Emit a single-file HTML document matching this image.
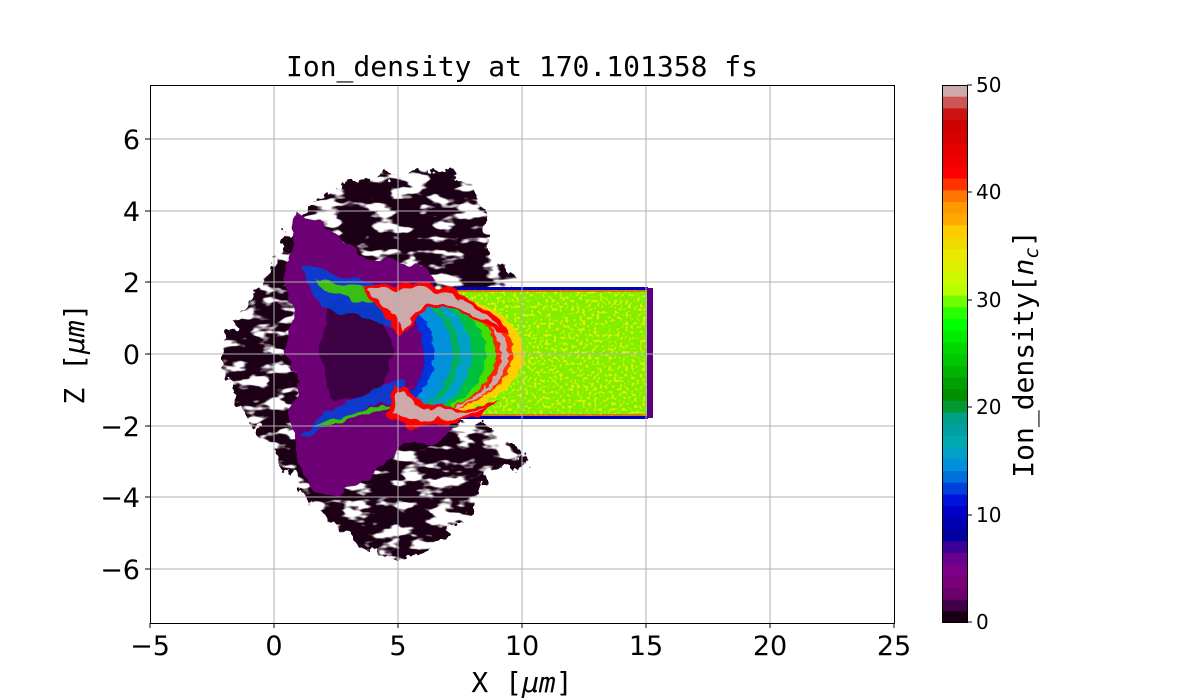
<!DOCTYPE html>
<html><head><meta charset="utf-8"><style>
html,body{margin:0;padding:0;background:#fff;width:1200px;height:700px;overflow:hidden}
svg text{font-family:"DejaVu Sans","Liberation Sans",sans-serif;fill:#000}
.mono{font-family:"DejaVu Sans Mono","Liberation Mono",monospace}
</style></head><body>
<svg width="1200" height="700" viewBox="0 0 1200 700" xmlns="http://www.w3.org/2000/svg">
<defs>
<filter id="rag" x="-20%" y="-20%" width="140%" height="140%">
<feTurbulence type="fractalNoise" baseFrequency="0.09" numOctaves="3" seed="3" result="n"/>
<feDisplacementMap in="SourceGraphic" in2="n" scale="22" xChannelSelector="R" yChannelSelector="G" result="d"/>
<feTurbulence type="fractalNoise" baseFrequency="0.035 0.08" numOctaves="3" seed="11" result="h"/>
<feColorMatrix in="h" type="matrix" values="0 0 0 0 0  0 0 0 0 0  0 0 0 0 0  -10 0 0 0 6.3" result="hm"/>
<feComposite in="d" in2="hm" operator="in"/>
</filter>
<filter id="rag2" x="-20%" y="-20%" width="140%" height="140%">
<feTurbulence type="fractalNoise" baseFrequency="0.06" numOctaves="2" seed="7" result="n"/>
<feDisplacementMap in="SourceGraphic" in2="n" scale="14" xChannelSelector="R" yChannelSelector="G"/>
</filter>
<filter id="wav" x="-10%" y="-10%" width="120%" height="120%">
<feTurbulence type="fractalNoise" baseFrequency="0.15" numOctaves="2" seed="5" result="n"/>
<feDisplacementMap in="SourceGraphic" in2="n" scale="7" xChannelSelector="R" yChannelSelector="G"/>
</filter>
<filter id="speck">
<feTurbulence type="fractalNoise" baseFrequency="0.35" numOctaves="1" seed="2" result="n"/>
<feColorMatrix in="n" type="matrix" values="0 0 0 0 0.85  0 0 0 0 0.92  0 0 0 0 0  0 0 0 -5 2.4" result="y"/>
<feComposite in="y" in2="SourceGraphic" operator="in" result="yy"/>
<feMerge><feMergeNode in="SourceGraphic"/><feMergeNode in="yy"/></feMerge>
</filter>
<clipPath id="ax"><rect x="150" y="85" width="744" height="538"/></clipPath>
<clipPath id="cr"><rect x="405" y="290" width="120" height="128"/></clipPath>
</defs>
<text class="mono" x="522" y="76" font-size="28" text-anchor="middle">Ion_density at 170.101358 fs</text>
<g clip-path="url(#ax)">
<g filter="url(#rag)">
<path d="M300,215 C330,180 400,170 445,172 C480,185 490,220 485,250 L520,280 L500,300 L455,290 L455,420 L500,430 L530,465 L490,470 L470,510 C440,550 400,565 380,555 C340,530 300,500 290,470 L255,430 L238,400 L222,370 L225,335 L250,300 L270,270 Z" fill="#1a0018"/>
</g>
<g filter="url(#rag2)">
<path d="M298,215 C320,215 340,240 360,255 L420,265 L440,290 L410,330 L420,380 L450,430 L430,445 L400,445 C380,470 360,490 330,495 C310,495 300,470 295,450 L290,420 L300,380 L285,350 L295,320 L285,280 Z" fill="#6e0074"/>
<path d="M330,300 L380,310 L395,350 L380,395 L330,400 L320,350 Z" fill="#3e0044"/>
</g>
<g filter="url(#rag2)" opacity="0.85">
<path d="M300,265 C340,270 380,285 410,300 L430,320 L400,330 L370,320 L320,305 Z" fill="#0044dc"/>
<path d="M300,440 C340,420 380,400 410,395 L430,390 L400,380 L370,390 L320,415 Z" fill="#0044dc"/>
<path d="M315,280 C350,285 380,292 400,300 L380,305 L330,295 Z" fill="#30e000"/>
<path d="M315,425 C350,415 380,405 400,400 L380,410 L330,425 Z" fill="#30e000"/>
</g>
<rect x="455" y="289" width="193" height="129" fill="#80ee00" filter="url(#speck)"/>
<rect x="455" y="287" width="193" height="3" fill="#0000c0"/>
<rect x="455" y="416" width="193" height="3" fill="#0000c0"/>
<rect x="455" y="290" width="193" height="2" fill="#ff4000" opacity="0.6"/>
<rect x="455" y="414" width="193" height="2" fill="#ff4000" opacity="0.6"/>
<rect x="647" y="288" width="6" height="130" fill="#5a0080"/>
<g clip-path="url(#cr)" filter="url(#wav)">
<ellipse cx="398" cy="354" rx="126" ry="66" fill="#ffd000"/>
<ellipse cx="398" cy="354" rx="115" ry="64" fill="#ff3000"/>
<ellipse cx="398" cy="354" rx="110" ry="64" fill="#ccaaaa"/>
<ellipse cx="398" cy="354" rx="103" ry="64" fill="#ff2000"/>
<ellipse cx="398" cy="354" rx="98" ry="64" fill="#40e000"/>
<ellipse cx="398" cy="354" rx="88" ry="64" fill="#00c040"/>
<ellipse cx="398" cy="354" rx="74" ry="64" fill="#00a0c8"/>
<ellipse cx="398" cy="354" rx="62" ry="60" fill="#00b060"/>
<ellipse cx="398" cy="354" rx="54" ry="58" fill="#0090dc"/>
<ellipse cx="398" cy="354" rx="36" ry="50" fill="#0030dd"/>
<ellipse cx="398" cy="354" rx="26" ry="44" fill="#6e0074"/>
</g>
<g filter="url(#rag2)">
<path d="M360,290 C390,280 430,282 455,290 L470,300 L495,315 L512,335 L495,332 L460,310 L430,310 L410,320 L400,340 L390,320 L370,300 Z" fill="#ff0000"/>
<path d="M365,293 C390,285 425,287 450,293 L480,310 L500,328 L460,308 L430,306 L410,315 L402,330 L392,312 Z" fill="#ccaaaa"/>
<path d="M385,415 L395,385 L410,395 L430,405 L470,408 L500,400 L480,415 L440,425 L410,428 Z" fill="#ff0000"/>
<path d="M392,412 L398,392 L412,400 L430,409 L470,411 L490,405 L460,417 L420,422 Z" fill="#ccaaaa"/>
</g>
</g>
<g stroke="#b0b0b0" stroke-width="1">
<line x1="274" y1="85" x2="274" y2="623"/><line x1="398" y1="85" x2="398" y2="623"/>
<line x1="522" y1="85" x2="522" y2="623"/><line x1="646" y1="85" x2="646" y2="623"/>
<line x1="770" y1="85" x2="770" y2="623"/>
<line x1="150" y1="139" x2="894" y2="139"/><line x1="150" y1="211" x2="894" y2="211"/>
<line x1="150" y1="282" x2="894" y2="282"/><line x1="150" y1="354" x2="894" y2="354"/>
<line x1="150" y1="426" x2="894" y2="426"/><line x1="150" y1="497" x2="894" y2="497"/>
<line x1="150" y1="569" x2="894" y2="569"/>
</g>
<rect x="150.5" y="85.5" width="744" height="538" fill="none" stroke="#000" stroke-width="1"/>
<g stroke="#000">
<line x1="150" y1="623" x2="150" y2="628"/><line x1="274" y1="623" x2="274" y2="628"/><line x1="398" y1="623" x2="398" y2="628"/><line x1="522" y1="623" x2="522" y2="628"/><line x1="646" y1="623" x2="646" y2="628"/><line x1="770" y1="623" x2="770" y2="628"/><line x1="894" y1="623" x2="894" y2="628"/>
<line x1="145" y1="139" x2="150" y2="139"/><line x1="145" y1="211" x2="150" y2="211"/><line x1="145" y1="282" x2="150" y2="282"/><line x1="145" y1="354" x2="150" y2="354"/><line x1="145" y1="426" x2="150" y2="426"/><line x1="145" y1="497" x2="150" y2="497"/><line x1="145" y1="569" x2="150" y2="569"/>
</g>
<g font-size="27" text-anchor="middle">
<text x="150" y="655">−5</text><text x="274" y="655">0</text><text x="398" y="655">5</text><text x="522" y="655">10</text><text x="646" y="655">15</text><text x="770" y="655">20</text><text x="894" y="655">25</text>
</g>
<g font-size="27" text-anchor="end">
<text x="140" y="149">6</text><text x="140" y="221">4</text><text x="140" y="292">2</text><text x="140" y="364">0</text><text x="140" y="436">−2</text><text x="140" y="507">−4</text><text x="140" y="579">−6</text>
</g>
<text class="mono" x="522" y="692" font-size="28" text-anchor="middle">X [<tspan font-style="italic">μm</tspan>]</text>
<text class="mono" transform="translate(84,354) rotate(-90)" font-size="28" text-anchor="middle">Z [<tspan font-style="italic">μm</tspan>]</text>
<g stroke="#000"><line x1="967" y1="85" x2="972" y2="85"/><line x1="967" y1="192" x2="972" y2="192"/><line x1="967" y1="300" x2="972" y2="300"/><line x1="967" y1="407" x2="972" y2="407"/><line x1="967" y1="515" x2="972" y2="515"/><line x1="967" y1="622" x2="972" y2="622"/></g>
<g font-size="20"><text x="976" y="92">50</text><text x="976" y="199">40</text><text x="976" y="307">30</text><text x="976" y="414">20</text><text x="976" y="522">10</text><text x="976" y="629">0</text></g>
<text class="mono" transform="translate(1033,354) rotate(-90)" font-size="28" text-anchor="middle">Ion_density[<tspan font-style="italic">n</tspan><tspan font-style="italic" font-size="19" dy="5">c</tspan><tspan dy="-5">]</tspan></text>
<g>
<rect x="942" y="85.0" width="26" height="12.2" fill="#ccaaaa"/><rect x="942" y="96.7" width="26" height="12.2" fill="#cc5555"/><rect x="942" y="108.4" width="26" height="12.2" fill="#cc1111"/><rect x="942" y="120.1" width="26" height="12.2" fill="#d00000"/><rect x="942" y="131.8" width="26" height="12.2" fill="#d80000"/><rect x="942" y="143.5" width="26" height="12.2" fill="#e60000"/><rect x="942" y="155.2" width="26" height="12.2" fill="#f20000"/><rect x="942" y="166.9" width="26" height="12.2" fill="#ff0000"/><rect x="942" y="178.6" width="26" height="12.2" fill="#ff3300"/><rect x="942" y="190.3" width="26" height="12.2" fill="#ff7700"/><rect x="942" y="202.0" width="26" height="12.2" fill="#ff9900"/><rect x="942" y="213.7" width="26" height="12.2" fill="#ffaa00"/><rect x="942" y="225.4" width="26" height="12.2" fill="#ffcc00"/><rect x="942" y="237.1" width="26" height="12.2" fill="#f0d800"/><rect x="942" y="248.8" width="26" height="12.2" fill="#e8e800"/><rect x="942" y="260.5" width="26" height="12.2" fill="#dcf000"/><rect x="942" y="272.2" width="26" height="12.2" fill="#ccf800"/><rect x="942" y="283.9" width="26" height="12.2" fill="#b8ff00"/><rect x="942" y="295.6" width="26" height="12.2" fill="#70ff00"/><rect x="942" y="307.3" width="26" height="12.2" fill="#28ff00"/><rect x="942" y="319.0" width="26" height="12.2" fill="#00ff00"/><rect x="942" y="330.7" width="26" height="12.2" fill="#00ec00"/><rect x="942" y="342.4" width="26" height="12.2" fill="#00d800"/><rect x="942" y="354.1" width="26" height="12.2" fill="#00c800"/><rect x="942" y="365.8" width="26" height="12.2" fill="#00b400"/><rect x="942" y="377.5" width="26" height="12.2" fill="#00a000"/><rect x="942" y="389.2" width="26" height="12.2" fill="#009000"/><rect x="942" y="400.9" width="26" height="12.2" fill="#009933"/><rect x="942" y="412.6" width="26" height="12.2" fill="#00a088"/><rect x="942" y="424.3" width="26" height="12.2" fill="#00a0a0"/><rect x="942" y="436.0" width="26" height="12.2" fill="#00a8b0"/><rect x="942" y="447.7" width="26" height="12.2" fill="#00a0c8"/><rect x="942" y="459.4" width="26" height="12.2" fill="#0090dc"/><rect x="942" y="471.1" width="26" height="12.2" fill="#0070dd"/><rect x="942" y="482.8" width="26" height="12.2" fill="#0040dd"/><rect x="942" y="494.5" width="26" height="12.2" fill="#0010dd"/><rect x="942" y="506.2" width="26" height="12.2" fill="#0000c8"/><rect x="942" y="517.9" width="26" height="12.2" fill="#0000b0"/><rect x="942" y="529.6" width="26" height="12.2" fill="#0000a0"/><rect x="942" y="541.3" width="26" height="12.2" fill="#3a0098"/><rect x="942" y="553.0" width="26" height="12.2" fill="#6a0090"/><rect x="942" y="564.7" width="26" height="12.2" fill="#7c0088"/><rect x="942" y="576.4" width="26" height="12.2" fill="#7a0078"/><rect x="942" y="588.1" width="26" height="12.2" fill="#6c006c"/><rect x="942" y="599.8" width="26" height="12.2" fill="#400048"/><rect x="942" y="611.5" width="26" height="11.5" fill="#180014"/>
</g>
<rect x="942.5" y="85.5" width="25" height="537" fill="none" stroke="#000"/>
</svg>
</body></html>
